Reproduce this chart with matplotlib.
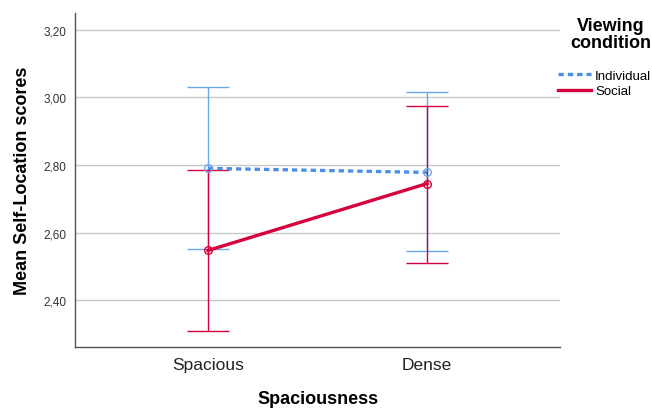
import matplotlib
matplotlib.use("Agg")
import matplotlib.pyplot as plt
from matplotlib.lines import Line2D
from matplotlib.ticker import FuncFormatter

plt.rcParams["font.family"] = ["Liberation Sans", "DejaVu Sans"]

# Estimated marginal means with 95% CI per viewing condition
categories = ["Spacious", "Dense"]
individual_mean = [2.790, 2.778]
individual_low = [2.552, 2.544]
individual_high = [3.030, 3.015]
social_mean = [2.547, 2.745]
social_low = [2.310, 2.511]
social_high = [2.784, 2.976]
yticks = [2.40, 2.60, 2.80, 3.00, 3.20]

BLUE_LINE = "#4a8ee6"
BLUE_BAR = "#6aa6ea"
RED = "#d6003c"

fig = plt.figure(figsize=(6.52, 4.10), dpi=100)
ax = fig.add_axes([0.115, 0.151, 0.744, 0.815])

x = [1, 2]


def draw_series(mean, low, high, line_color, bar_color, ls, label):
    err = [[m - l for m, l in zip(mean, low)], [h - m for m, h in zip(mean, high)]]
    ax.errorbar(x, mean, yerr=err, fmt="none", ecolor=bar_color, elinewidth=1.0,
                capsize=15, capthick=1.0, zorder=3)
    ax.plot(x, mean, color=line_color, lw=2.4, ls=ls, zorder=4, label=label)
    ax.plot(x, mean, ls="none", marker="o", ms=5.5, mfc="none", mec=bar_color,
            mew=1.0, zorder=5)


draw_series(individual_mean, individual_low, individual_high, BLUE_LINE, BLUE_BAR,
            (0, (1.6, 1.2)), "Individual")
draw_series(social_mean, social_low, social_high, RED, RED, "-", "Social")

ax.set_xlim(1 - 0.607, 2 + 0.607)
ax.set_ylim(2.261, 3.250)
ax.set_xticks(x)
ax.set_xticklabels(categories, fontsize=12.5, color="#222222")
ax.set_yticks(yticks)
ax.yaxis.set_major_formatter(FuncFormatter(lambda v, p: f"{v:.2f}".replace(".", ",")))
ax.tick_params(axis="y", length=0, labelsize=8.5, pad=6, labelcolor="#333333")
ax.tick_params(axis="x", length=0, pad=7)
ax.grid(axis="y", color="#c8c8c8", lw=1.0)
ax.set_axisbelow(True)
for side in ("top", "right"):
    ax.spines[side].set_visible(False)
for side in ("left", "bottom"):
    ax.spines[side].set_color("#555555")
    ax.spines[side].set_linewidth(1.0)

ax.set_ylabel("Mean Self-Location scores", fontsize=13, fontweight="bold", labelpad=9)
ax.set_xlabel("Spaciousness", fontsize=13, fontweight="bold", labelpad=13)

# Legend sits in the right margin, title drawn separately and centred above it
fig.text(0.937, 0.957, "Viewing\ncondition", ha="center", va="top", fontsize=13,
         fontweight="bold", linespacing=1.0)
handles = [
    Line2D([], [], color=BLUE_LINE, lw=2.4, ls=(0, (1.6, 1.2))),
    Line2D([], [], color=RED, lw=2.4),
]
fig.legend(handles, ["Individual", "Social"], loc="center left",
           bbox_to_anchor=(558 / 652, 1 - 84.5 / 410), frameon=False, fontsize=9.5,
           handlelength=2.5, handletextpad=0.3, labelspacing=0.25,
           borderpad=0, borderaxespad=0)

fig.savefig("out.png", dpi=100)
